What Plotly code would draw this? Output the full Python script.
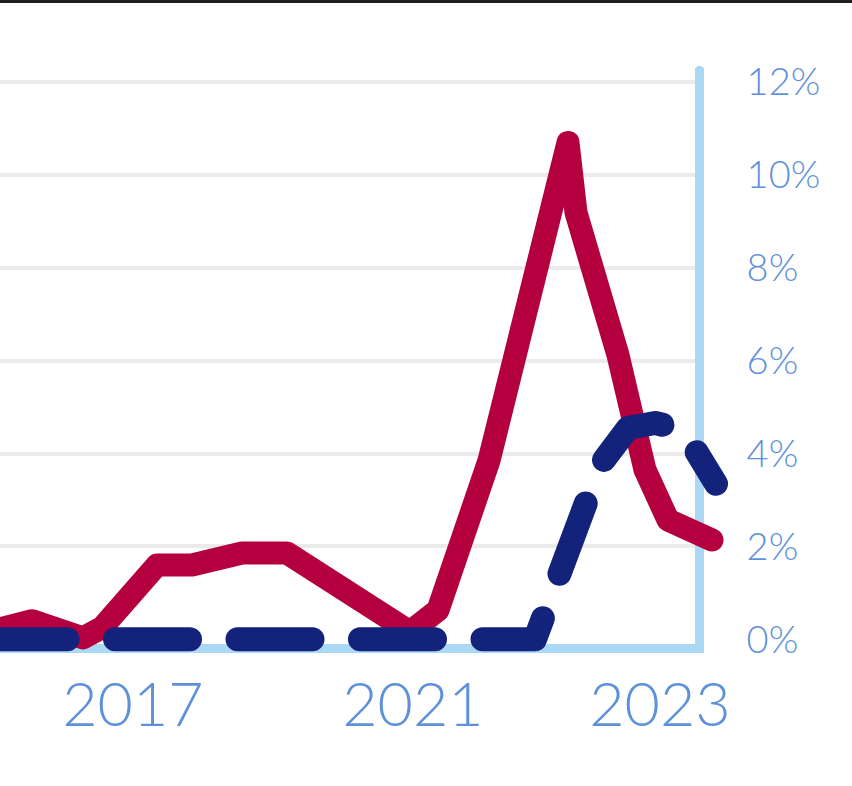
import plotly.graph_objects as go

# ---------------- data ----------------
# x is a period index (1 unit = one step on the horizontal scale)
red_x = [-1.5, 3.2, 8.3, 10.2, 15.7, 19.2, 24.2, 28.7, 41.0, 43.8, 48.9, 56.8, 57.6, 61.8, 64.5, 66.8, 71.2]
red_y = [0.14, 0.40, 0.03, 0.25, 1.60, 1.60, 1.86, 1.86, 0.16, 0.63, 3.85, 10.70, 9.19, 6.12, 3.65, 2.57, 2.14]

blue_x = [-0.75, 53.5, 60.0, 62.8, 65.5, 68.3, 71.6]
blue_y = [0.0, 0.0, 3.75, 4.55, 4.66, 4.51, 3.35]

x_tick_vals = [13.3, 41.3, 66.0]
x_tick_text = ["2017", "2021", "2023"]
y_tick_vals = [0, 2, 4, 6, 8, 10, 12]
y_tick_text = ["0%", "2%", "4%", "6%", "8%", "10%", "12%"]
grid_vals = [2, 4, 6, 8, 10, 12]

# ---------------- styling / geometry ----------------
W, H = 852, 786
RED = "#B5003F"
NAVY = "#13227A"
AXIS_BLUE = "#AAD8F5"
LABEL_BLUE = "#5E91DA"
GRID = "#EBEBEB"

PLOT_RIGHT = 695.0
DATA_RIGHT = 748.0
PLOT_TOP = 70.0
PLOT_BOTTOM = 643.5
DATA_BOTTOM = 668.0
Y_MIN, Y_MAX = -0.09, 12.26
X_MIN, X_MAX = 0.0, 69.5

px_per_x = PLOT_RIGHT / (X_MAX - X_MIN)
px_per_y = (PLOT_BOTTOM - PLOT_TOP) / (Y_MAX - Y_MIN)
X2_MAX = X_MIN + DATA_RIGHT / px_per_x
Y2_MIN = Y_MIN - (DATA_BOTTOM - PLOT_BOTTOM) / px_per_y

dom_main_y = [(H - PLOT_BOTTOM) / H, (H - PLOT_TOP) / H]
dom_data_y = [(H - DATA_BOTTOM) / H, (H - PLOT_TOP) / H]

fig = go.Figure()
# empty traces so that the axis frame subplot (x/y) and the grid overlay (x/y3) are drawn
fig.add_trace(go.Scatter(x=[None], y=[None], xaxis="x", yaxis="y", mode="lines",
                         hoverinfo="skip", showlegend=False))
fig.add_trace(go.Scatter(x=[None], y=[None], xaxis="x", yaxis="y3", mode="lines",
                         hoverinfo="skip", showlegend=False))
fig.add_trace(go.Scatter(x=red_x, y=red_y, mode="lines", xaxis="x2", yaxis="y2",
                         line=dict(color=RED, width=23), hoverinfo="skip", showlegend=False))
fig.add_trace(go.Scatter(x=blue_x, y=blue_y, mode="lines", xaxis="x2", yaxis="y2",
                         line=dict(color=NAVY, width=24, dash="75px,47.5px"),
                         hoverinfo="skip", showlegend=False))

fig.update_layout(
    width=W, height=H, autosize=False,
    margin=dict(l=0, r=0, t=0, b=0, pad=0),
    paper_bgcolor="white", plot_bgcolor="rgba(0,0,0,0)",
    showlegend=False,
    xaxis=dict(domain=[0, PLOT_RIGHT / W], range=[X_MIN, X_MAX], anchor="y",
               showline=True, linecolor=AXIS_BLUE, linewidth=9, showgrid=False, zeroline=False,
               tickmode="array", tickvals=x_tick_vals, ticktext=x_tick_text, ticks="",
               ticklabelstandoff=0, automargin=False,
               tickfont=dict(family="Lato", size=61, color=LABEL_BLUE, weight=300)),
    yaxis=dict(domain=dom_main_y, range=[Y_MIN, Y_MAX], anchor="x", side="right",
               showline=True, linecolor=AXIS_BLUE, linewidth=9, showgrid=False, zeroline=False,
               tickmode="array", tickvals=y_tick_vals, ticktext=y_tick_text, ticks="",
               ticklabelstandoff=35, automargin=False,
               tickfont=dict(family="Lato", size=38, color=LABEL_BLUE, weight=300)),
    yaxis3=dict(overlaying="y", anchor="x", range=[Y_MIN, Y_MAX], side="right",
                showline=False, showgrid=True, gridcolor=GRID, gridwidth=4, zeroline=False,
                tickmode="array", tickvals=grid_vals, showticklabels=False, ticks="",
                automargin=False),
    xaxis2=dict(domain=[0, DATA_RIGHT / W], range=[X_MIN, X2_MAX], anchor="y2",
                visible=False, automargin=False),
    yaxis2=dict(domain=dom_data_y, range=[Y2_MIN, Y_MAX], anchor="x2",
                visible=False, automargin=False),
    shapes=[dict(type="rect", xref="paper", yref="paper", x0=0, x1=1,
                 y0=1 - 3.0 / H, y1=1, fillcolor="#1F1F1F", line=dict(width=0), layer="above")],
)

post = """
document.body.style.margin = '0';
document.body.style.padding = '0';
var s = document.createElement('style');
s.textContent = 'body{margin:0 !important;padding:0 !important;}' +
                '.scatterlayer .js-line{stroke-linecap:round !important;stroke-linejoin:round !important;}' +
                ' path.ylines-above{stroke-linecap:round !important;}';
document.head.appendChild(s);
"""
fig.write_html("out.html", post_script=post, config={"displayModeBar": False})
